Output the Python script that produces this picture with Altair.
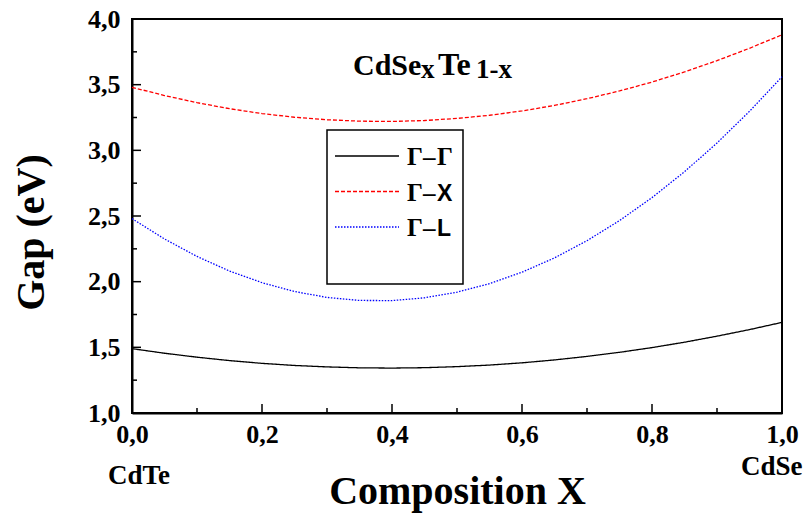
import altair as alt
import pandas as pd

# ---- data ----
x_vals = [0.0, 0.05, 0.1, 0.15, 0.2, 0.25, 0.3, 0.35, 0.4, 0.45, 0.5,
          0.55, 0.6, 0.65, 0.7, 0.75, 0.8, 0.85, 0.9, 0.95, 1.0]
gap_gamma_gamma = [1.49, 1.455, 1.425, 1.399, 1.378, 1.362, 1.351, 1.344, 1.342, 1.345, 1.353,
                   1.365, 1.382, 1.404, 1.431, 1.462, 1.498, 1.539, 1.585, 1.635, 1.69]
gap_gamma_x = [3.48, 3.417, 3.363, 3.317, 3.28, 3.252, 3.233, 3.222, 3.22, 3.227, 3.243,
               3.267, 3.30, 3.342, 3.393, 3.452, 3.52, 3.597, 3.683, 3.777, 3.88]
gap_gamma_l = [2.48, 2.325, 2.192, 2.081, 1.992, 1.925, 1.88, 1.857, 1.856, 1.877, 1.92,
               1.985, 2.072, 2.181, 2.312, 2.465, 2.64, 2.837, 3.056, 3.297, 3.56]

series_names = ["Γ–Γ", "Γ–X", "Γ–L"]
series_colors = ["black", "red", "blue"]
series_dashes = [[1, 0], [4, 2], [1.5, 1.5]]

y_major = [1.0, 1.5, 2.0, 2.5, 3.0, 3.5, 4.0]
y_minor = [1.25, 1.75, 2.25, 2.75, 3.25, 3.75]
x_major = [0.0, 0.2, 0.4, 0.6, 0.8, 1.0]
x_minor = [0.1, 0.3, 0.5, 0.7, 0.9]

rows = []
for name, vals in zip(series_names, [gap_gamma_gamma, gap_gamma_x, gap_gamma_l]):
    for xv, ev in zip(x_vals, vals):
        rows.append({"x": xv, "E": ev, "series": name})
df = pd.DataFrame(rows)

W, H = 650, 394
SERIF = "Liberation Serif"
SANS = "Liberation Sans"
label_expr = "replace(format(datum.value, '.1f'), '.', ',')"

x_scale = alt.Scale(domain=[0, 1], nice=False, zero=False)
y_scale = alt.Scale(domain=[1, 4], nice=False, zero=False)

x_axis = alt.Axis(values=x_major, ticks=False, grid=False, domainColor="black", domainWidth=2,
                  labelFont=SERIF, labelFontWeight="bold", labelFontSize=26, labelColor="black",
                  labelPadding=8, labelFlush=False, labelOverlap=False, labelExpr=label_expr,
                  titleFont=SERIF, titleFontWeight="bold", titleFontSize=40, titleColor="black",
                  titleBaseline="alphabetic", titleY=90)
y_axis = alt.Axis(values=y_major, ticks=False, grid=False, domainColor="black", domainWidth=2,
                  labelFont=SERIF, labelFontWeight="bold", labelFontSize=26, labelColor="black",
                  labelPadding=12, labelFlush=False, labelOverlap=False, labelExpr=label_expr,
                  titleFont=SERIF, titleFontWeight="bold", titleFontSize=40, titleColor="black",
                  titleAngle=-90, titleBaseline="alphabetic", titleAlign="center",
                  titleX=-89, titleY=213)
X_TITLE = "Composition X"
Y_TITLE = "Gap (eV)"

lines = alt.Chart(df).mark_line(strokeWidth=1.3).encode(
    x=alt.X("x:Q", scale=x_scale, axis=x_axis, title=X_TITLE),
    y=alt.Y("E:Q", scale=y_scale, axis=y_axis, title=Y_TITLE),
    color=alt.Color("series:N", scale=alt.Scale(domain=series_names, range=series_colors), legend=None),
    strokeDash=alt.StrokeDash("series:N", scale=alt.Scale(domain=series_names, range=series_dashes), legend=None),
)

def yticks(vals, length):
    return alt.Chart(pd.DataFrame({"v": vals})).mark_rule(color="black", strokeWidth=1.5).encode(
        y=alt.Y("v:Q", scale=y_scale, axis=y_axis, title=Y_TITLE), x=alt.value(0), x2=alt.value(length))

def xticks(vals, length):
    return alt.Chart(pd.DataFrame({"v": vals})).mark_rule(color="black", strokeWidth=1.5).encode(
        x=alt.X("v:Q", scale=x_scale, axis=x_axis, title=X_TITLE), y=alt.value(H), y2=alt.value(H - length))

ticks = [yticks(y_major, 9), yticks(y_minor, 5), xticks(x_major, 9), xticks(x_minor, 5)]

# ---- legend box (drawn by hand) ----
legend_layers = [
    alt.Chart(pd.DataFrame({"a": [0]})).mark_rect(fill="white", stroke="black", strokeWidth=1.5).encode(
        x=alt.value(195), x2=alt.value(331), y=alt.value(111), y2=alt.value(265))
]
for i, (name, col, dash) in enumerate(zip(series_names, series_colors, series_dashes)):
    yy = 137 + i * 35.5
    legend_layers.append(
        alt.Chart(pd.DataFrame({"s": [name]})).mark_rule(color=col, strokeDash=dash, strokeWidth=1.3).encode(
            x=alt.value(203), x2=alt.value(267), y=alt.value(yy)))
    head, tail = name[:2], name[2:]
    legend_layers.append(
        alt.Chart(pd.DataFrame({"s": [head]})).mark_text(
            align="left", baseline="alphabetic", font=SERIF, fontWeight="bold", fontSize=25, color="black"
        ).encode(x=alt.value(275), y=alt.value(yy + 9), text="s:N"))
    legend_layers.append(
        alt.Chart(pd.DataFrame({"s": [tail]})).mark_text(
            align="left", baseline="alphabetic", font=SERIF if tail == "Γ" else SANS,
            fontWeight="bold", fontSize=25 if tail == "Γ" else 23, color="black"
        ).encode(x=alt.value(305), y=alt.value(yy + 9), text="s:N"))

# ---- annotations ----
def note(txt, px, py, size, font=SERIF):
    return alt.Chart(pd.DataFrame({"t": [txt]})).mark_text(
        align="left", baseline="alphabetic", font=font, fontWeight="bold", fontSize=size, color="black"
    ).encode(x=alt.value(px), y=alt.value(py), text="t:N")

notes = [
    note("CdSe", 221, 56, 30),
    note("x", 289, 59, 27),
    note("Te", 306, 56, 32),
    note("1-x", 344, 59, 27),
    note("CdTe", -24, 465, 27),
    note("CdSe", 609, 456, 27),
]

chart = alt.layer(lines, *ticks, *legend_layers, *notes).properties(
    width=W, height=H,
    autosize=alt.AutoSizeParams(type="none"),
    padding={"left": 132, "top": 19, "right": 24, "bottom": 103},
    background="white",
).configure(font=SERIF).configure_axis(
    labelFont=SERIF, titleFont=SERIF, labelFontWeight="bold", titleFontWeight="bold"
).configure_view(stroke="black", strokeWidth=2)

chart.save("out.html", embed_options={"renderer": "svg", "actions": False})
